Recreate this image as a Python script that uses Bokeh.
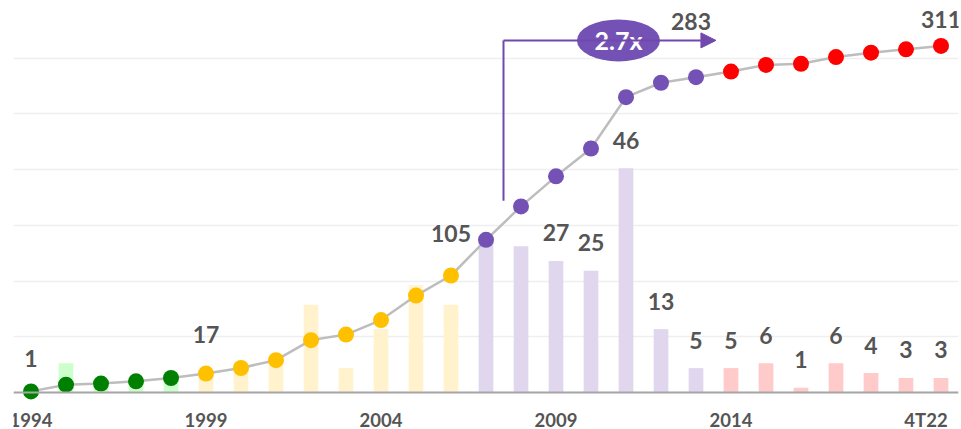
from bokeh.plotting import figure
from bokeh.models import (Range1d, SingleIntervalTicker, ColumnDataSource,
                          Arrow, NormalHead, Grid, Span)
from bokeh.core.properties import value
from bokeh.embed import file_html
from bokeh.resources import INLINE

# ---------------- data ----------------
categories = [str(y) for y in range(1994, 2020)] + ["4T22"]
annual = [1, 6, 1, 2, 3, 4, 5, 7, 18, 5, 13, 22, 18, 32, 30, 27, 25, 46, 13, 5,
          5, 6, 1, 6, 4, 3, 3]
cumulative = [1, 7, 8, 10, 13, 17, 22, 29, 47, 52, 65, 87, 105, 137, 167, 194, 219,
              265, 278, 283, 288, 294, 295, 301, 305, 308, 311]
phase = ["g"] * 5 + ["o"] * 8 + ["p"] * 7 + ["r"] * 7
year_label_idx = [0, 5, 10, 15, 20, 26]
line_label_idx = [0, 5, 12, 19, 26]
bar_label_idx = list(range(15, 27))

# ---------------- styles ----------------
DOT = {"g": "#008000", "o": "#FFC000", "p": "#7451B4", "r": "#FF0000"}
BAR = {"g": "#CCFFCC", "o": "#FFF2CC", "p": "#E0D6EE", "r": "#FFCACA"}
TXT = "#555555"
PURPLE = "#7149AC"
FONT = value("Lato")

FRAME_H = 427      # frame height in px
BELOW = 37         # px of frame below the zero baseline (room for year labels)
LINE_TOP = 350
BAR_TOP = 80

x = list(range(len(categories)))
src = ColumnDataSource(dict(
    x=x, annual=annual, cum=cumulative,
    dot=[DOT[k] for k in phase], bar=[BAR[k] for k in phase],
))

p = figure(frame_width=945, frame_height=FRAME_H,
           x_range=Range1d(-0.5, len(categories) - 0.5),
           y_range=Range1d(-LINE_TOP * BELOW / (FRAME_H - BELOW), LINE_TOP),
           x_axis_location=None, y_axis_location=None,
           output_backend="svg", toolbar_location=None,
           min_border_left=13, min_border_right=3, min_border_top=2,
           min_border_bottom=0)
p.extra_y_ranges = {"bars": Range1d(-BAR_TOP * BELOW / (FRAME_H - BELOW), BAR_TOP)}
p.outline_line_color = None
p.background_fill_color = "white"
p.border_fill_color = "white"
for g in p.grid:
    g.visible = False
p.add_layout(Grid(dimension=1, ticker=SingleIntervalTicker(interval=50),
                  grid_line_color="#EFEFEF", grid_line_width=1.5))
p.add_layout(Span(location=0, dimension="width", line_color="#A6A6A6", line_width=2))

# bars
p.vbar(x="x", top="annual", width=0.42, source=src, fill_color="bar",
       line_color=None, y_range_name="bars")
# line + dots
p.line(x="x", y="cum", source=src, line_color="#BDBDBD", line_width=2.5)
p.scatter(x="x", y="cum", source=src, size=16, fill_color="dot", line_color=None)

# year labels
yr_src = ColumnDataSource(dict(
    x=year_label_idx,
    y=[0] * len(year_label_idx),
    t=[categories[i] for i in year_label_idx],
    xo=[0, 0, 0, 0, 0, -15],
    yo=[27, 27, 27, 27, 27, 27],
))
p.text(x="x", y="y", text="t", source=yr_src, x_offset="xo", y_offset="yo",
       text_align="center", text_baseline="alphabetic", text_font=FONT,
       text_font_style="bold", text_font_size="18.5px", text_color=TXT)

# line labels
line_src = ColumnDataSource(dict(
    x=line_label_idx,
    y=[cumulative[i] for i in line_label_idx],
    t=[str(cumulative[i]) for i in line_label_idx],
    xo=[0, 0, 0, -5, 0],
    yo=[-33, -39, -42, -56, -26],
))
p.text(x="x", y="y", text="t", source=line_src, x_offset="xo", y_offset="yo",
       text_align="center", text_baseline="alphabetic", text_font=FONT,
       text_font_style="bold", text_font_size="23px", text_color=TXT)

# bar labels
bar_src = ColumnDataSource(dict(
    x=bar_label_idx,
    y=[annual[i] for i in bar_label_idx],
    t=[str(annual[i]) for i in bar_label_idx],
))
p.text(x="x", y="y", text="t", source=bar_src, y_offset=-28, y_range_name="bars",
       text_align="center", text_baseline="alphabetic", text_font=FONT,
       text_font_style="bold", text_font_size="23px", text_color=TXT)

# growth arrow 2006 -> 2013
i0, i1 = 12, 19
ax_x0 = i0 + 1.5
arrow_y = cumulative[-1] + 5
ax_x1 = i1 + 0.57
p.line(x=[ax_x0, ax_x0], y=[cumulative[i0 + 2] + 5, arrow_y], line_color=PURPLE,
       line_width=2)
p.add_layout(Arrow(x_start=ax_x0, y_start=arrow_y, x_end=ax_x1, y_end=arrow_y,
                   line_color=PURPLE, line_width=2,
                   end=NormalHead(size=15, fill_color=PURPLE, line_color=PURPLE)))
ex = (ax_x0 + ax_x1) / 2 + 0.25
p.ellipse(x=[ex], y=[arrow_y], width=83, height=42, width_units="screen",
          height_units="screen", fill_color="#7451B4", line_color=None)
ratio = cumulative[i1] / cumulative[i0]
p.text(x=[ex], y=[arrow_y], text=[f"{ratio:.1f}x"], text_align="center",
       text_baseline="middle", text_font=FONT, text_font_style="bold",
       text_font_size="25px", text_color="white")

open("out.html", "w").write(file_html(p, INLINE))
